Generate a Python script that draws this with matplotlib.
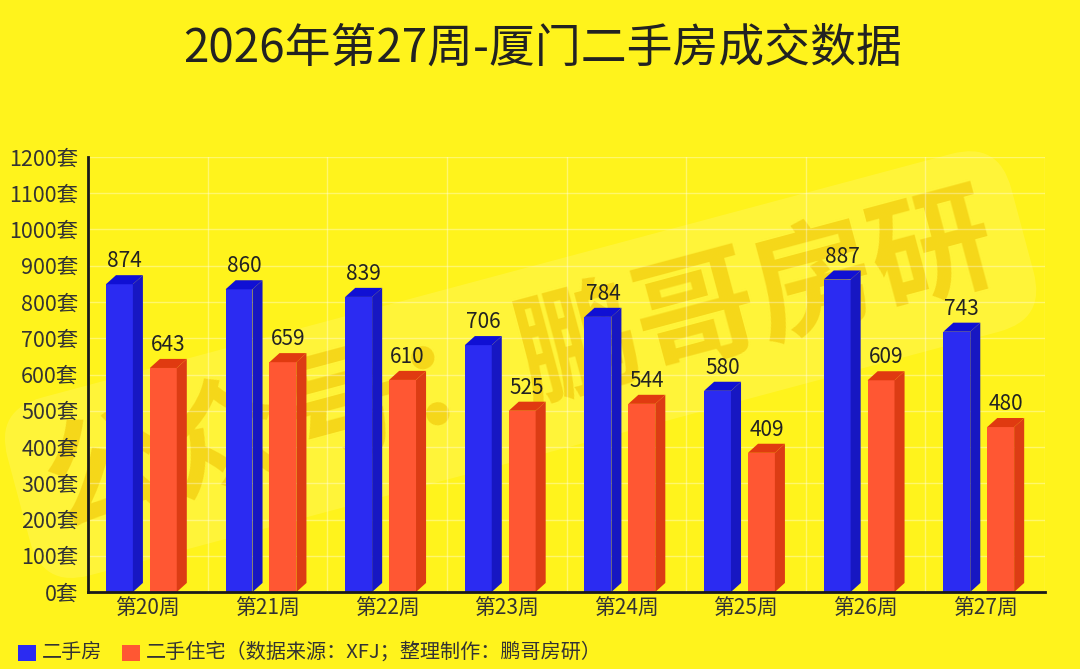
import matplotlib.pyplot as plt
from matplotlib.patches import Rectangle, Polygon

plt.rcParams['font.family'] = ['Noto Sans CJK SC', 'DejaVu Sans']

weeks = ['第20周', '第21周', '第22周', '第23周', '第24周', '第25周', '第26周', '第27周']
ershoufang = [874, 860, 839, 706, 784, 580, 887, 743]
zhuzhai = [643, 659, 610, 525, 544, 409, 609, 480]
yticks = list(range(0, 1300, 100))

bg = '#fff31c'
# front, side, top
blue = ('#2b2bf2', '#1717c2', '#1010d4')
red = ('#ff5733', '#dc3c14', '#e03a10')

fig = plt.figure(figsize=(10.8, 6.69), dpi=100, facecolor=bg)
ax = fig.add_axes([88/1080, 1 - 592/669, (1045-88)/1080, (592-157)/669])
ax.patch.set_visible(False)
ax.set_xlim(-0.5, 7.5)
ax.set_ylim(0, 1200)

# watermark, behind the axes
fig.text(0.482, 0.455, '公众号：鹏哥房研', fontsize=88, fontweight='bold',
         color='#eebf00', alpha=0.55, rotation=15, ha='center', va='center',
         zorder=-1,
         bbox=dict(boxstyle='round,pad=0.25,rounding_size=0.4', fc='white',
                   ec='none', alpha=0.13))

for y in yticks:
    ax.axhline(y, color='white', alpha=0.35, lw=1, zorder=1)
for k in range(9):
    ax.axvline(k - 0.5, color='white', alpha=0.35, lw=1, zorder=1)

dx = 0.084
dy = 25


def bar3d(x0, w, v, cols):
    x1 = x0 + w
    ax.bar(x0, v - dy, width=w, align='edge', color=cols[0], zorder=3, lw=0)
    ax.add_patch(Polygon([(x1, 0), (x1 + dx, dy), (x1 + dx, v), (x1, v - dy)],
                         closed=True, fc=cols[1], ec='none', zorder=3))
    ax.add_patch(Polygon([(x0, v - dy), (x1, v - dy), (x1 + dx, v), (x0 + dx, v)],
                         closed=True, fc=cols[2], ec='none', zorder=3))
    ax.annotate(str(v), (x0 + (w + dx) / 2, v), xytext=(0, 2),
                textcoords='offset points', ha='center', va='bottom',
                fontsize=15, color='#222222', zorder=4)


w = 0.225
for i in range(len(weeks)):
    bar3d(i - 0.35, w, ershoufang[i], blue)
    bar3d(i + 0.017, w, zhuzhai[i], red)

ax.set_yticks(yticks)
ax.set_yticklabels([f'{v}套' for v in yticks], fontsize=15.5, color='#333333')
ax.set_xticks(range(len(weeks)))
ax.set_xticklabels(weeks, fontsize=15, color='#333333')
ax.tick_params(length=0)
ax.tick_params(axis='y', pad=7)
ax.tick_params(axis='x', pad=4)
for s in ['top', 'right']:
    ax.spines[s].set_visible(False)
for s in ['left', 'bottom']:
    ax.spines[s].set_linewidth(2)
    ax.spines[s].set_color('#1a1a1a')
    ax.spines[s].set_zorder(5)

fig.text(0.502, 0.927, '2026年第27周-厦门二手房成交数据', fontsize=33,
         color='#222222', ha='center', va='center')

# legend
ly = 1 - 652/669
fig.patches.append(Rectangle((18/1080, 1 - 661/669), 18/1080, 16/669,
                             transform=fig.transFigure, fc=blue[0], ec='none'))
fig.text(42/1080, ly, '二手房', fontsize=14.5, color='#333333', va='center')
fig.patches.append(Rectangle((122/1080, 1 - 661/669), 18/1080, 16/669,
                             transform=fig.transFigure, fc=red[0], ec='none'))
fig.text(146/1080, ly, '二手住宅（数据来源：XFJ；整理制作：鹏哥房研）',
         fontsize=14.5, color='#333333', va='center')

fig.savefig('out.png', dpi=100, facecolor=bg)
